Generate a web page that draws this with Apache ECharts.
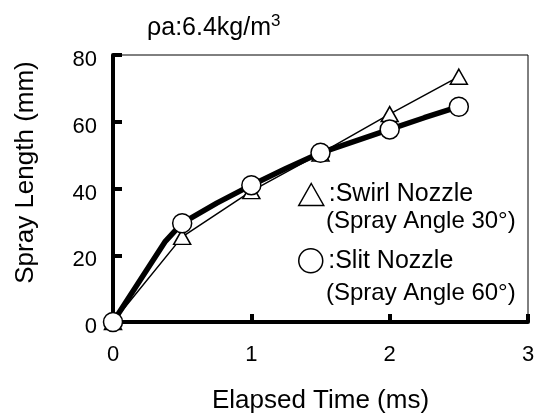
<!DOCTYPE html>
<html>
<head>
<meta charset="utf-8">
<script src="https://cdn.jsdelivr.net/npm/echarts@6/dist/echarts.min.js"></script>
<style>html,body{margin:0;padding:0;background:#fff;}#c{width:543px;height:419px;}</style>
</head>
<body>
<div id="c"></div>
<script>
// Data
var swirlTime = [0, 0.5, 1.0, 1.5, 2.0, 2.5];
var swirlLength = [0, 25.5, 39.2, 50.5, 62.3, 73.5];
var slitTime = [0, 0.375, 0.5, 0.75, 1.0, 1.25, 1.5, 1.75, 2.0, 2.25, 2.5];
var slitLength = [0, 24, 29.6, 35.6, 41.0, 46.0, 50.7, 54.2, 57.7, 61.2, 64.5];
var slitMarked = [true, false, true, false, true, false, true, false, true, false, true];
var xTicks = [0, 1, 2, 3];
var yTicks = [0, 20, 40, 60, 80];
var seriesNames = ['Swirl Nozzle', 'Slit Nozzle'];
var subLabels = ['(Spray Angle 30°)', '(Spray Angle 60°)'];
var titleMain = 'ρa:6.4kg/m';
var titleSup = '3';
var xName = 'Elapsed Time (ms)';
var yName = 'Spray Length (mm)';

var FONT = '"Liberation Sans", Arial, Helvetica, sans-serif';
var chart = echarts.init(document.getElementById('c'), null, {renderer: 'canvas'});

var swirlData = swirlTime.map(function (t, i) { return [t, swirlLength[i]]; });
var slitData = slitTime.map(function (t, i) {
  var d = {value: [t, slitLength[i]]};
  if (!slitMarked[i]) d.symbol = 'none';
  return d;
});

chart.setOption({
  animation: false,
  backgroundColor: '#fff',
  textStyle: {fontFamily: FONT, color: '#000'},
  title: {
    text: '{m|' + titleMain + '}{s|' + titleSup + '}',
    left: 147, top: 13, padding: 0,
    textStyle: {
      fontWeight: 'normal',
      rich: {
        m: {fontFamily: FONT, fontSize: 25, fontWeight: 'normal', color: '#000', verticalAlign: 'bottom', lineHeight: 28},
        s: {fontFamily: FONT, fontSize: 17, fontWeight: 'normal', color: '#000', verticalAlign: 'top', lineHeight: 28, padding: [0, 0, 14, 0]}
      }
    }
  },
  grid: {
    left: 113, right: 15, top: 55, bottom: 97,
    show: true, borderColor: '#000', borderWidth: 1, backgroundColor: 'transparent'
  },
  legend: [
    {
      data: [seriesNames[0]], left: 298, top: 182, orient: 'vertical', padding: 0,
      icon: 'triangle', itemWidth: 25, itemHeight: 22,
      formatter: ':{name}', selectedMode: false,
      textStyle: {fontFamily: FONT, fontSize: 25, color: '#000'},
      itemStyle: {borderWidth: 1.5}
    },
    {
      data: [seriesNames[1]], left: 298, top: 248, orient: 'vertical', padding: 0,
      icon: 'circle', itemWidth: 25, itemHeight: 24,
      formatter: ':{name}', selectedMode: false,
      textStyle: {fontFamily: FONT, fontSize: 25, color: '#000'},
      itemStyle: {borderWidth: 1.5}
    }
  ],
  graphic: [
    {type: 'text', left: 326, top: 209, style: {text: subLabels[0], font: '24px ' + FONT, fill: '#000'}},
    {type: 'text', left: 326, top: 281, style: {text: subLabels[1], font: '24px ' + FONT, fill: '#000'}}
  ],
  xAxis: {
    type: 'value', min: xTicks[0], max: xTicks[xTicks.length - 1], interval: 1,
    name: xName, nameLocation: 'middle', nameGap: 66,
    nameTextStyle: {fontFamily: FONT, fontSize: 26, color: '#000'},
    axisLine: {show: true, onZero: false, lineStyle: {color: '#000', width: 4}},
    axisTick: {show: true, inside: true, length: 8, lineStyle: {color: '#000', width: 4}},
    axisLabel: {margin: 22, fontFamily: FONT, fontSize: 22, color: '#000'},
    splitLine: {show: false}
  },
  yAxis: {
    type: 'value', min: yTicks[0], max: yTicks[yTicks.length - 1], interval: 20,
    name: yName, nameLocation: 'middle', nameGap: 74,
    nameTextStyle: {fontFamily: FONT, fontSize: 26, color: '#000', padding: [0, 0, 0, 32]},
    axisLine: {show: true, onZero: false, lineStyle: {color: '#000', width: 4}},
    axisTick: {show: true, inside: true, length: 9, lineStyle: {color: '#000', width: 4}},
    axisLabel: {margin: 16, fontFamily: FONT, fontSize: 22, color: '#000', verticalAlign: 'top', lineHeight: 10},
    splitLine: {show: false}
  },
  series: [
    {
      name: seriesNames[0], type: 'line', data: swirlData, clip: false,
      symbol: 'triangle', symbolSize: [17, 15],
      lineStyle: {color: '#000', width: 1.5},
      itemStyle: {color: '#fff', borderColor: '#000', borderWidth: 1.5},
      z: 3
    },
    {
      name: seriesNames[1], type: 'line', data: slitData, clip: false,
      symbol: 'circle', symbolSize: 19,
      lineStyle: {color: '#000', width: 5.5},
      itemStyle: {color: '#fff', borderColor: '#000', borderWidth: 1.5},
      z: 4
    }
  ]
});
</script>
</body>
</html>
